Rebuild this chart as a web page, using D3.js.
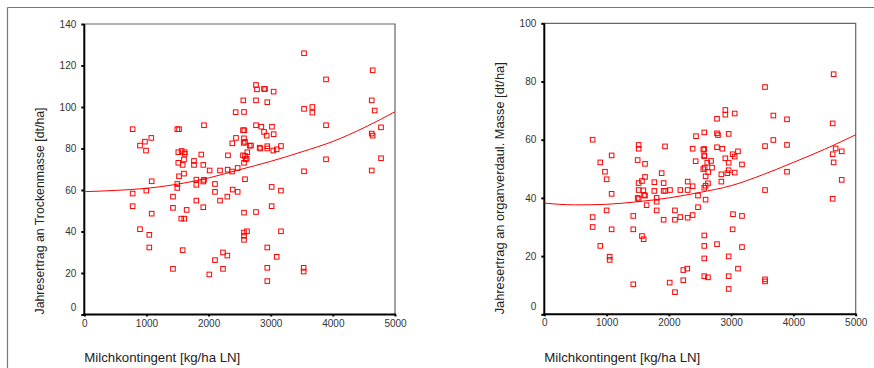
<!DOCTYPE html>
<html>
<head>
<meta charset="utf-8">
<script src="https://cdn.jsdelivr.net/npm/d3@7"></script>
<style>
  html, body { margin: 0; padding: 0; background: #fff; }
  svg { display: block; }
  text { font-family: "Liberation Sans", Arial, sans-serif; }
</style>
</head>
<body>
<svg id="chart" width="874" height="368"></svg>
<script>
// Milchkontingent (kg/ha LN) ticks shared by both panels
const xTicks = [0, 1000, 2000, 3000, 4000, 5000];
const dmTicks = [0, 20, 40, 60, 80, 100, 120, 140];
const omTicks = [0, 20, 40, 60, 80, 100];

// Jahresertrag an Trockenmasse [dt/ha]
const dmX = [778, 778, 778, 896, 976, 993, 998, 1078, 1084, 1084, 896, 1046, 1046,
  1427, 1427, 1427, 1497, 1524, 1513, 1513, 1524, 1497, 1497, 1567, 1583, 1604, 1615,
  1615, 1604, 1561, 1609, 1583, 1647, 1765, 1765, 1803, 1803, 1803, 1883, 1915, 1926,
  1926, 1915, 1915, 2017, 2012, 2103, 2103, 2103, 2184, 2184, 2232, 2232, 2307, 2312,
  2302, 2302, 2377, 2382, 2388, 2436, 2441, 2468, 2468, 2559, 2570, 2554, 2575, 2570,
  2565, 2586, 2554, 2586, 2570, 2597, 2623, 2613, 2586, 2570, 2570, 2570, 2570, 2618,
  2661, 2682, 2763, 2779, 2763, 2763, 2849, 2892, 2908, 2763, 2822, 2833, 2892, 2935,
  2945, 2945, 2945, 3020, 3047, 3047, 3042, 3096, 3165, 3015, 3015, 3165, 3165, 2945,
  3096, 2945, 2945, 3536, 3536, 3536, 3530, 3530, 3670, 3670, 3890, 3890, 3890, 4641,
  4625, 4673, 4625, 4641, 4775, 4775, 4625];
const dmY = [89.3, 58.3, 52.2, 81.4, 83.3, 79.0, 59.7, 85.1, 64.2, 48.6, 41.1, 38.4, 32.3,
  22.0, 56.8, 51.4, 89.3, 89.3, 78.2, 73.1, 66.6, 62.9, 61.0, 78.8, 72.1, 74.7, 78.2,
  77.4, 67.9, 46.2, 46.2, 31.0, 50.4, 74.0, 72.1, 65.0, 62.5, 54.9, 77.1, 72.1, 91.2,
  64.9, 64.1, 51.7, 69.4, 19.3, 62.9, 59.1, 26.2, 69.4, 54.9, 29.9, 22.0, 69.8, 76.7,
  56.8, 28.4, 68.9, 82.5, 60.2, 97.5, 85.1, 70.6, 59.1, 103.2, 97.6, 88.8, 88.8, 84.9,
  82.7, 83.2, 76.7, 76.4, 73.1, 74.8, 78.2, 75.1, 65.2, 49.1, 39.5, 37.9, 36.0, 40.1,
  81.4, 81.4, 110.6, 108.5, 103.2, 91.2, 90.5, 108.7, 108.7, 49.4, 80.4, 80.0, 88.0, 86.2,
  102.3, 81.1, 80.0, 90.5, 86.9, 107.4, 79.0, 79.6, 81.2, 61.5, 52.2, 59.7, 40.1, 32.3,
  27.8, 22.5, 16.1, 125.9, 99.1, 69.0, 22.5, 20.7, 100.0, 97.3, 113.3, 91.2, 74.8, 117.7,
  103.2, 98.3, 87.2, 86.2, 90.2, 75.3, 69.4];

// Jahresertrag an organisch verdaulicher Masse [dt/ha]
const omX = [776, 776, 776, 899, 899, 974, 1001, 1001, 1081, 1081, 1081, 1049, 1049,
  1429, 1429, 1429, 1515, 1515, 1499, 1515, 1515, 1499, 1515, 1568, 1590, 1617, 1617,
  1601, 1617, 1643, 1568, 1595, 1767, 1767, 1804, 1804, 1804, 1884, 1938, 1916, 1916,
  1943, 2018, 1916, 2013, 2098, 2098, 2098, 2184, 2184, 2232, 2296, 2232, 2302, 2302,
  2302, 2382, 2382, 2382, 2436, 2430, 2468, 2468, 2569, 2553, 2569, 2569, 2569, 2553,
  2575, 2590, 2569, 2590, 2590, 2617, 2628, 2633, 2569, 2569, 2569, 2569, 2628, 2677,
  2693, 2773, 2773, 2789, 2773, 2859, 2843, 2843, 2773, 2907, 2907, 2907, 2960, 2960,
  2960, 2939, 3057, 3024, 3057, 3057, 3110, 3174, 3030, 3024, 3174, 3174, 2960, 3110,
  2960, 2960, 3544, 3544, 3544, 3544, 3544, 3678, 3678, 3897, 3897, 3897, 4646, 4630,
  4630, 4646, 4678, 4775, 4775, 4630];
const omY = [60.0, 33.4, 30.0, 52.2, 23.5, 49.0, 46.4, 35.7, 54.6, 41.4, 29.2, 19.8, 18.7,
  10.3, 33.8, 29.2, 58.2, 56.9, 53.0, 45.1, 42.7, 40.0, 39.6, 45.8, 42.6, 51.7, 47.2,
  41.0, 40.8, 37.5, 26.9, 25.8, 45.4, 42.4, 40.0, 38.7, 35.7, 48.5, 57.7, 45.1, 42.4,
  42.4, 42.7, 32.5, 10.9, 35.7, 32.5, 7.6, 42.7, 33.4, 15.2, 15.7, 11.7, 45.6, 42.7,
  33.2, 56.9, 44.0, 34.1, 61.2, 52.6, 40.8, 36.8, 62.5, 56.6, 56.8, 54.6, 54.3, 49.9,
  50.4, 47.4, 43.5, 44.2, 39.4, 52.1, 45.0, 48.9, 27.1, 23.5, 19.2, 13.1, 12.7, 52.7,
  50.4, 67.2, 62.2, 61.6, 57.4, 56.9, 48.1, 45.6, 24.1, 70.2, 68.6, 53.6, 62.0, 52.1,
  49.5, 48.5, 69.0, 55.0, 54.2, 48.7, 56.0, 51.5, 34.4, 29.2, 33.8, 23.1, 19.9, 15.7,
  13.1, 8.7, 78.1, 57.8, 42.7, 12.0, 11.3, 68.3, 59.9, 67.0, 58.2, 49.0, 82.5, 65.6,
  55.0, 52.2, 57.0, 56.0, 46.2, 39.7];

// Fitted trend curves, sampled along the Milchkontingent axis
const fitX = [0, 500, 1000, 1500, 2000, 2500, 3000, 3500, 4000, 4500, 5000];
const dmFit = [59.2, 59.8, 60.8, 62.8, 65.8, 69.8, 73.8, 78.4, 83.4, 90.0, 97.7];
const omFit = [38.2, 37.6, 37.8, 38.7, 40.0, 41.9, 44.2, 47.9, 52.2, 56.7, 61.7];

const xTitle = "Milchkontingent [kg/ha LN]";
const dmTitle = "Jahresertrag an Trockenmasse [dt/ha]";
const omTitle = "Jahresertrag an organverdaul. Masse [dt/ha]";

const svg = d3.select("#chart");
const red = "#ff0000";

// outer frame: top and left rule
svg.append("line").attr("x1", 7.5).attr("x2", 874).attr("y1", 7.5).attr("y2", 7.5)
  .attr("stroke", "#777").attr("stroke-width", 1.2);
svg.append("line").attr("x1", 7.5).attr("x2", 7.5).attr("y1", 7.5).attr("y2", 368)
  .attr("stroke", "#777").attr("stroke-width", 1.2);

function panel(cfg) {
  const x = d3.scaleLinear().domain([0, 5000]).range([cfg.left, cfg.right]);
  const y = d3.scaleLinear().domain([0, cfg.yMax]).range([cfg.bottom, cfg.top]);
  const g = svg.append("g");

  // grey frame on top and right
  g.append("path")
    .attr("d", `M${cfg.left},${cfg.top}H${cfg.right}V${cfg.bottom}`)
    .attr("fill", "none").attr("stroke", "#666").attr("stroke-width", 1.2);

  // y axis
  const ya = g.append("g").attr("transform", `translate(${cfg.left},0)`)
    .call(d3.axisLeft(y).tickValues(cfg.yTicks).tickSize(3).tickPadding(5)
      .tickFormat(d3.format("d")));
  ya.select(".domain").attr("stroke", "#000").attr("stroke-width", 2);
  ya.selectAll(".tick line").attr("stroke", "#000").attr("stroke-width", 2);
  ya.selectAll(".tick text").attr("fill", "#333").style("font-size", "10px")
    .attr("dy", d => d === 0 ? "-0.45em" : "0.32em");

  // x axis
  const xa = g.append("g").attr("transform", `translate(0,${cfg.bottom})`)
    .call(d3.axisBottom(x).tickValues(xTicks).tickSize(2).tickPadding(3)
      .tickFormat(d3.format("d")));
  xa.select(".domain").attr("stroke", "#000").attr("stroke-width", 2);
  xa.selectAll(".tick line").attr("stroke", "#000").attr("stroke-width", 2);
  xa.selectAll(".tick text").attr("fill", "#333").style("font-size", "10px");
  ya.selectAll("path.domain").attr("d", `M0,${cfg.bottom + 1}V${cfg.top}`);
  xa.selectAll("path.domain").attr("d", `M${cfg.left - 1},0H${cfg.right + 1}`);

  // trend curve
  g.append("path")
    .datum(fitX.map((v, i) => [v, cfg.fit[i]]))
    .attr("fill", "none").attr("stroke", red).attr("stroke-width", 1)
    .attr("d", d3.line().x(d => x(d[0])).y(d => y(d[1])).curve(d3.curveMonotoneX));

  // hollow square markers
  const s = 4.6;
  g.append("g").selectAll("rect")
    .data(cfg.xs.map((v, i) => [v, cfg.ys[i]]))
    .join("rect")
    .attr("x", d => x(d[0]) - s / 2).attr("y", d => y(d[1]) - s / 2)
    .attr("width", s).attr("height", s)
    .attr("fill", "none").attr("stroke", red).attr("stroke-width", 1);

  // axis titles
  g.append("text").attr("x", cfg.left).attr("y", 362)
    .attr("textLength", 156).attr("lengthAdjust", "spacingAndGlyphs")
    .style("font-size", "13px").attr("fill", "#222").text(xTitle);
  g.append("text")
    .attr("transform", `translate(${cfg.titleX},${cfg.bottom}) rotate(-90)`)
    .attr("textLength", cfg.titleLen).attr("lengthAdjust", "spacingAndGlyphs")
    .style("font-size", "13px").attr("fill", "#222").text(cfg.title);
}

panel({ left: 84.3, right: 395, top: 24, bottom: 314.5, yMax: 140, yTicks: dmTicks,
  xs: dmX, ys: dmY, fit: dmFit, title: dmTitle, titleX: 43.8, titleLen: 207 });
panel({ left: 544.3, right: 855.7, top: 23.3, bottom: 314.3, yMax: 100, yTicks: omTicks,
  xs: omX, ys: omY, fit: omFit, title: omTitle, titleX: 503.8, titleLen: 252 });
</script>
</body>
</html>
